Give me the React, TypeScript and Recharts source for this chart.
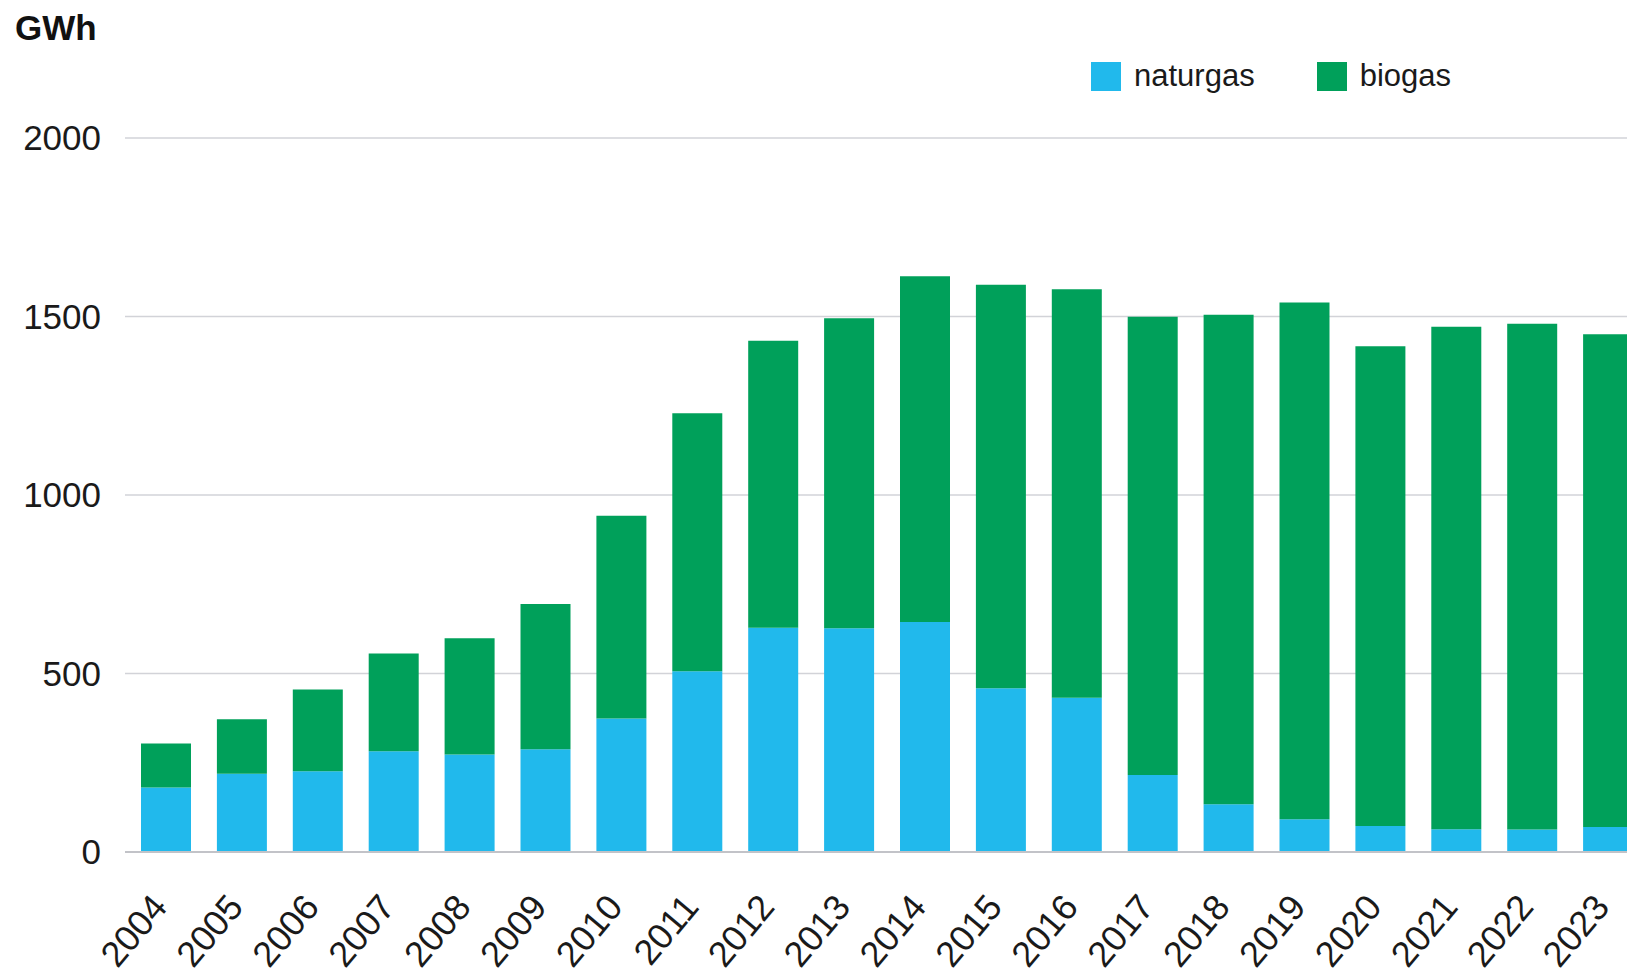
import React from "react";
import {
  BarChart,
  Bar,
  XAxis,
  YAxis,
  CartesianGrid,
  Legend,
} from "recharts";

const years = [
  "2004", "2005", "2006", "2007", "2008", "2009", "2010", "2011", "2012", "2013",
  "2014", "2015", "2016", "2017", "2018", "2019", "2020", "2021", "2022", "2023",
];
const naturgas = [
  181, 219, 226, 282, 273, 288, 374, 506, 628, 627,
  644, 459, 432, 216, 134, 92, 73, 64, 63, 70,
];
const biogas = [
  123, 153, 229, 274, 326, 407, 568, 723, 804, 868,
  969, 1130, 1144, 1283, 1371, 1447, 1344, 1407, 1417, 1380,
];
const yTicks = [0, 500, 1000, 1500, 2000];
const seriesOrder = ["naturgas", "biogas"];

const data = years.map((year, i) => ({
  year,
  naturgas: naturgas[i],
  biogas: biogas[i],
}));

const FONT = '"Liberation Sans", Arial, Helvetica, sans-serif';
const BLUE = "#21b9ec";
const GREEN = "#00a05a";

function YearTick(props: any) {
  const { x, y, payload } = props;
  return (
    <text
      transform={`translate(${x + 3},${y + 56}) rotate(-50)`}
      textAnchor="end"
      fontSize={36}
      fontFamily={FONT}
      fill="#1a1a1a"
    >
      {payload.value}
    </text>
  );
}

function LegendContent(props: any) {
  const payload = [...(props.payload || [])].sort(
    (a: any, b: any) => seriesOrder.indexOf(a.value) - seriesOrder.indexOf(b.value)
  );
  return (
    <div style={{ display: "flex", alignItems: "center", fontFamily: FONT }}>
      {payload.map((entry: any, i: number) => (
        <div
          key={entry.value}
          style={{
            display: "flex",
            alignItems: "center",
            marginLeft: i === 0 ? 0 : 62,
          }}
        >
          <span
            style={{
              display: "inline-block",
              width: 30,
              height: 29,
              background: entry.color,
              marginRight: 13,
            }}
          />
          <span style={{ fontSize: 31, color: "#1a1a1a", lineHeight: "36px" }}>
            {entry.value}
          </span>
        </div>
      ))}
    </div>
  );
}

export default function App() {
  return (
    <div
      style={{
        position: "absolute",
        left: 0,
        top: 0,
        width: 1627,
        height: 977,
        overflow: "hidden",
        background: "#fff",
      }}
    >
      <BarChart
        width={1650}
        height={977}
        data={data}
        margin={{ top: 138, right: 4, left: 0, bottom: 0 }}
      >
        <CartesianGrid vertical={false} stroke="#d2d3d8" strokeWidth={1.5} />
        <XAxis
          dataKey="year"
          interval={0}
          height={125}
          tickLine={false}
          tickSize={0}
          tickMargin={0}
          padding={{ left: 3, right: 0 }}
          axisLine={{ stroke: "#c2c3c8", strokeWidth: 2 }}
          tick={<YearTick />}
        />
        <YAxis
          width={125}
          domain={[0, 2000]}
          ticks={yTicks}
          axisLine={false}
          tickLine={false}
          tickSize={0}
          tickMargin={24}
          tick={{ fontSize: 35, fontFamily: FONT, fill: "#1a1a1a" }}
          label={{
            content: () => (
              <text
                x={15}
                y={40}
                fontSize={35}
                fontWeight="bold"
                fontFamily={FONT}
                fill="#111"
              >
                GWh
              </text>
            ),
          }}
        />
        <Legend
          layout="horizontal"
          verticalAlign="middle"
          align="center"
          wrapperStyle={{ top: 58, left: 1091, width: "auto", height: "auto" }}
          content={<LegendContent />}
        />
        <Bar
          dataKey="naturgas"
          name="naturgas"
          stackId="a"
          fill={BLUE}
          barSize={50}
          isAnimationActive={false}
        />
        <Bar
          dataKey="biogas"
          name="biogas"
          stackId="a"
          fill={GREEN}
          barSize={50}
          isAnimationActive={false}
        />
      </BarChart>
    </div>
  );
}
